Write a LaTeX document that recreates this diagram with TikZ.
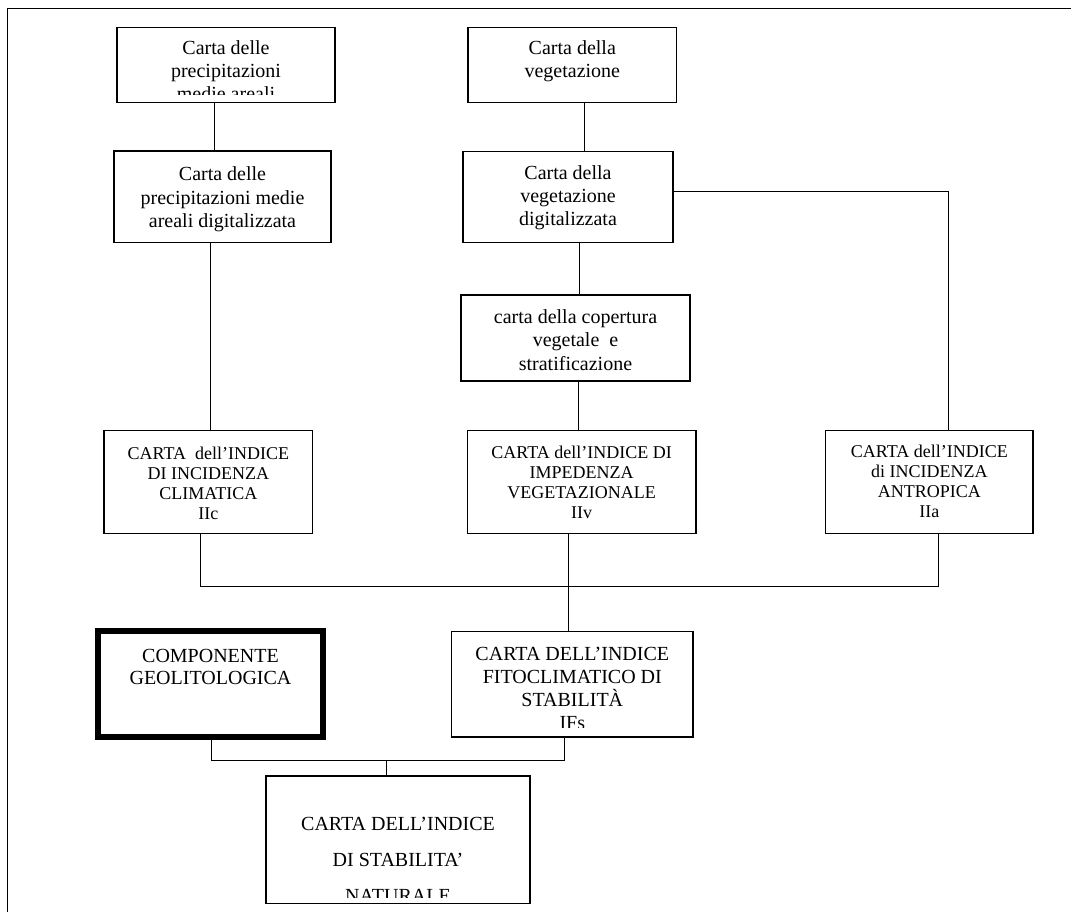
\documentclass[tikz,border=0pt]{standalone}
\usepackage{fontspec}
\setmainfont{Liberation Serif}
\usetikzlibrary{positioning}

\begin{document}
\begin{tikzpicture}[x=1pt,y=-1pt,
  box/.style={draw, line width=1.3pt, inner sep=0pt},
  txt/.style={align=center, inner sep=0pt, font=\fontsize{20}{23.3}\selectfont},
  idx/.style={align=center, inner sep=0pt, font=\fontsize{18}{20}\selectfont},
  link/.style={line width=1pt}]
\useasboundingbox (0,0) rectangle (1071,912);
\draw[line width=1.4pt] (7.3,912) -- (7.3,8.3) -- (1071,8.3);

\node[box, minimum width=218pt, minimum height=75.4pt] (precip) at (226,65) {};
\node[box, minimum width=217pt, minimum height=91.7pt] (precipdig) at (222.5,197) {};
\node[box, minimum width=208.7pt, minimum height=75.4pt] (veg) at (572.3,65) {};
\node[box, minimum width=210pt, minimum height=91pt] (vegdig) at (568,197.2) {};
\node[box, minimum width=229pt, minimum height=86pt] (copertura) at (575.5,338) {};
\node[box, minimum width=208.7pt, minimum height=102.6pt] (iic) at (208.3,482) {};
\node[box, minimum width=228.7pt, minimum height=102.6pt] (iiv) at (581.7,482) {};
\node[box, minimum width=207.3pt, minimum height=102.6pt] (iia) at (929.3,482) {};
\node[box, line width=6.7pt, minimum width=225pt, minimum height=106pt] (geolito) at (210.5,684) {};
\node[box, minimum width=241.3pt, minimum height=105.3pt] (ifs) at (572.3,684.3) {};
\node[box, minimum width=264pt, minimum height=127.3pt] (isn) at (398,839.7) {};

\begin{scope}
\clip (precip.north west) rectangle ([yshift=9pt]precip.south east);
\node[txt, below=13.6pt of precip.north] (preciptxt) {Carta delle\\precipitazioni\\medie areali};
\end{scope}
\node[txt, below=16.3pt of precipdig.north] (precipdigtxt) {Carta delle\\precipitazioni medie\\areali digitalizzata};
\node[txt, below=13.6pt of veg.north] (vegtxt) {Carta della\\vegetazione};
\node[txt, below=13.9pt of vegdig.north] (vegdigtxt) {Carta della\\vegetazione\\digitalizzata};
\node[txt, below=15pt of copertura.north] (coperturatxt) {carta della copertura\\vegetale\ \ e\\stratificazione};
\node[idx, below=16.3pt of iic.north] (iictxt) {CARTA\ \ dell’INDICE\\DI INCIDENZA\\CLIMATICA\\IIc};
\node[idx, below=15.6pt of iiv.north] (iivtxt) {CARTA dell’INDICE DI\\IMPEDENZA\\VEGETAZIONALE\\IIv};
\node[idx, below=15pt of iia.north] (iiatxt) {CARTA dell’INDICE\\di INCIDENZA\\ANTROPICA\\IIa};
\node[txt, font=\fontsize{20}{22}\selectfont, below=21.7pt of geolito.north] (geolitotxt) {COMPONENTE\\GEOLITOLOGICA};
\begin{scope}
\clip (ifs.north west) rectangle ([yshift=10pt]ifs.south east);
\node[txt, font=\fontsize{20}{23}\selectfont, below=15.7pt of ifs.north] (ifstxt) {CARTA DELL’INDICE\\FITOCLIMATICO DI\\STABILITÀ\\IFs};
\end{scope}
\begin{scope}
\clip (isn.north west) rectangle ([yshift=7pt]isn.south east);
\node[txt, font=\fontsize{20}{36}\selectfont, below=41.3pt of isn.north] (isntxt) {CARTA DELL’INDICE\\DI STABILITA’\\NATURALE};
\end{scope}

\draw[link] ([xshift=-12pt]precip.south) -- ([xshift=-12pt]precip.south |- precipdig.north);
\draw[link] ([xshift=-12.5pt]precipdig.south) -- ([xshift=-12.5pt]precipdig.south |- iic.north);
\draw[link] ([xshift=11.7pt]veg.south) -- ([xshift=11.7pt]veg.south |- vegdig.north);
\draw[link] ([xshift=11.3pt]vegdig.south) -- ([xshift=11.3pt]vegdig.south |- copertura.north);
\draw[link] ([yshift=5.5pt]vegdig.east) -| ([xshift=19pt]iia.north);
\draw[link] ([xshift=2.8pt]copertura.south) -- ([xshift=2.8pt]copertura.south |- iiv.north);
\draw[link] ([xshift=-8.3pt]iic.south) -- ++(0,52.4) -| ([xshift=9pt]iia.south);
\draw[link] ([xshift=-13.2pt]iiv.south) -- ([xshift=-13.2pt]iiv.south |- ifs.north);
\draw[link] ([xshift=0.5pt]geolito.south) -- ++(0,20) -| ([xshift=-8pt]ifs.south);
\draw[link] ([xshift=-11.3pt]isn.north) -- ++(0,-15.3);
\end{tikzpicture}
\end{document}
